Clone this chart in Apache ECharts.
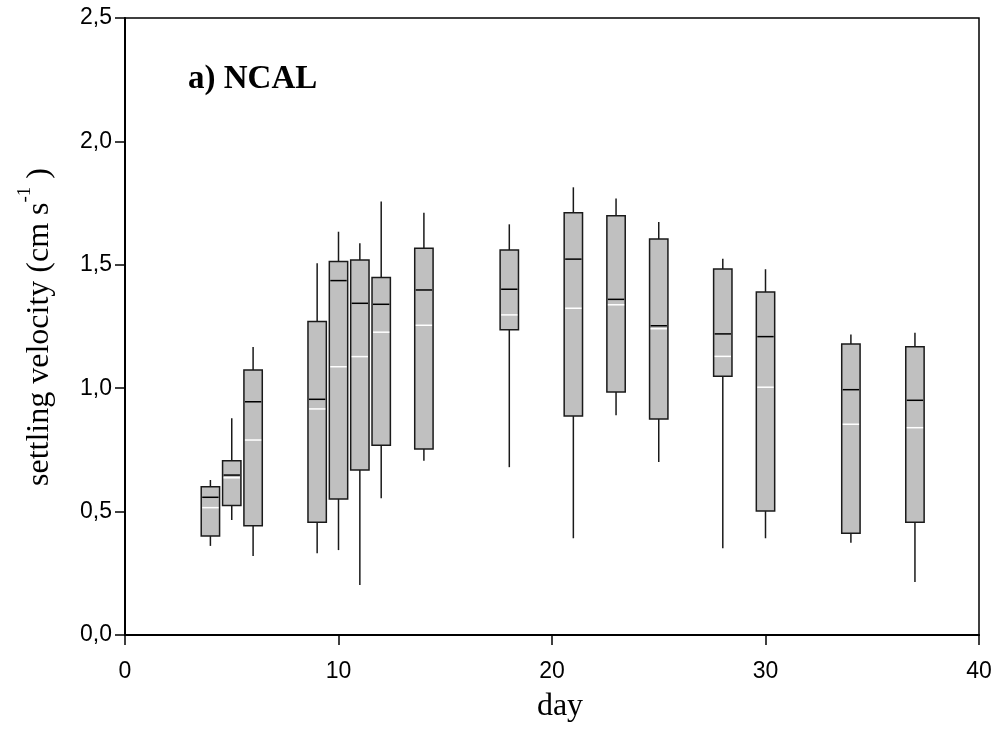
<!DOCTYPE html>
<html>
<head>
<meta charset="utf-8">
<script src="https://cdn.jsdelivr.net/npm/echarts@6/dist/echarts.min.js"></script>
<style>
  html, body { margin: 0; padding: 0; background: #fff; }
  #chart { width: 999px; height: 749px; }
</style>
</head>
<body>
<div id="chart"></div>
<script>
const days       = [4, 5, 6, 9, 10, 11, 12, 14, 18, 21, 23, 25, 28, 30, 34, 37];
const whiskerLow = [0.361, 0.466, 0.320, 0.331, 0.344, 0.203, 0.554, 0.706, 0.680, 0.392, 0.890, 0.701, 0.351, 0.392, 0.374, 0.215];
const q1         = [0.401, 0.525, 0.443, 0.457, 0.551, 0.669, 0.769, 0.754, 1.237, 0.887, 0.985, 0.875, 1.048, 0.502, 0.412, 0.457];
const medians    = [0.558, 0.648, 0.945, 0.955, 1.436, 1.344, 1.340, 1.398, 1.401, 1.523, 1.360, 1.253, 1.220, 1.209, 0.994, 0.951];
const means      = [0.516, 0.637, 0.790, 0.916, 1.087, 1.128, 1.227, 1.255, 1.297, 1.324, 1.338, 1.241, 1.129, 1.004, 0.854, 0.840];
const q3         = [0.601, 0.706, 1.074, 1.270, 1.513, 1.519, 1.449, 1.567, 1.560, 1.711, 1.699, 1.605, 1.483, 1.390, 1.179, 1.168];
const whiskerHigh= [0.628, 0.878, 1.167, 1.506, 1.634, 1.587, 1.756, 1.711, 1.664, 1.814, 1.769, 1.673, 1.525, 1.482, 1.218, 1.225];

const xTicks = [0, 10, 20, 30, 40];
const yTicks = [0, 0.5, 1.0, 1.5, 2.0, 2.5];

const data = days.map((d, i) => [d, whiskerLow[i], q1[i], medians[i], means[i], q3[i], whiskerHigh[i]]);

const SERIF = "'Liberation Serif', 'Times New Roman', 'DejaVu Serif', serif";
const SANS = "'Liberation Sans', Arial, 'DejaVu Sans', sans-serif";

function renderItem(params, api) {
  const x = api.value(0);
  const lo = api.coord([x, api.value(1)]);
  const b1 = api.coord([x, api.value(2)]);
  const md = api.coord([x, api.value(3)]);
  const mn = api.coord([x, api.value(4)]);
  const b3 = api.coord([x, api.value(5)]);
  const hi = api.coord([x, api.value(6)]);
  const w = api.size([0.86, 0])[0];
  const cx = lo[0];
  const lineStyle = { stroke: '#1a1a1a', lineWidth: 1.5 };
  return {
    type: 'group',
    children: [
      { type: 'line', shape: { x1: cx, y1: hi[1], x2: cx, y2: b3[1] }, style: lineStyle },
      { type: 'line', shape: { x1: cx, y1: b1[1], x2: cx, y2: lo[1] }, style: lineStyle },
      { type: 'rect', shape: { x: cx - w / 2, y: b3[1], width: w, height: b1[1] - b3[1] },
        style: { fill: '#c0c0c0', stroke: '#1a1a1a', lineWidth: 1.5 } },
      { type: 'line', shape: { x1: cx - w / 2 + 1, y1: md[1], x2: cx + w / 2 - 1, y2: md[1] },
        style: { stroke: '#000', lineWidth: 1.5 } },
      { type: 'line', shape: { x1: cx - w / 2 + 1, y1: mn[1], x2: cx + w / 2 - 1, y2: mn[1] },
        style: { stroke: '#ffffff', lineWidth: 1.5 } }
    ]
  };
}

const chart = echarts.init(document.getElementById('chart'), null, { renderer: 'canvas' });
chart.setOption({
  animation: false,
  backgroundColor: '#fff',
  grid: { left: 125, right: 20, top: 18, bottom: 114, show: true, borderColor: '#000', borderWidth: 1.5, backgroundColor: 'transparent' },
  xAxis: {
    type: 'value', min: xTicks[0], max: xTicks[xTicks.length - 1], interval: 10,
    axisLine: { show: true, onZero: false, lineStyle: { color: '#000', width: 2 } },
    axisTick: { show: true, inside: false, length: 10, lineStyle: { color: '#000', width: 1.5 } },
    axisLabel: { color: '#000', fontFamily: SANS, fontSize: 23, margin: 25 },
    splitLine: { show: false }
  },
  yAxis: {
    type: 'value', min: yTicks[0], max: yTicks[yTicks.length - 1], interval: 0.5,
    axisLine: { show: true, onZero: false, lineStyle: { color: '#000', width: 2 } },
    axisTick: { show: true, inside: false, length: 10, lineStyle: { color: '#000', width: 1.5 } },
    axisLabel: { color: '#000', fontFamily: SANS, fontSize: 23, margin: 13,
      formatter: v => v.toFixed(1).replace('.', ',') },
    splitLine: { show: false }
  },
  graphic: [
    { type: 'text', x: 188, y: 79, style: { text: 'a) NCAL', font: 'bold 33px ' + SERIF, fill: '#000', textAlign: 'left', textVerticalAlign: 'middle' } },
    { type: 'text', x: 560, y: 707, style: { text: 'day', font: '32px ' + SERIF, fill: '#000', textAlign: 'center', textVerticalAlign: 'middle' } },
    { type: 'text', x: 36, y: 327, rotation: Math.PI / 2,
      style: {
        text: '{a|settling velocity (cm s}{s|-1}{a| )}',
        textAlign: 'center', textVerticalAlign: 'middle', fill: '#000',
        rich: {
          a: { fontFamily: SERIF, fontSize: 32, lineHeight: 40, verticalAlign: 'bottom', fill: '#000' },
          s: { fontFamily: SERIF, fontSize: 19, lineHeight: 40, verticalAlign: 'top', fill: '#000' }
        }
      } }
  ],
  series: [{
    type: 'custom',
    renderItem: renderItem,
    data: data,
    encode: { x: 0, y: [1, 2, 3, 4, 5, 6] },
    clip: false
  }]
});
</script>
</body>
</html>
